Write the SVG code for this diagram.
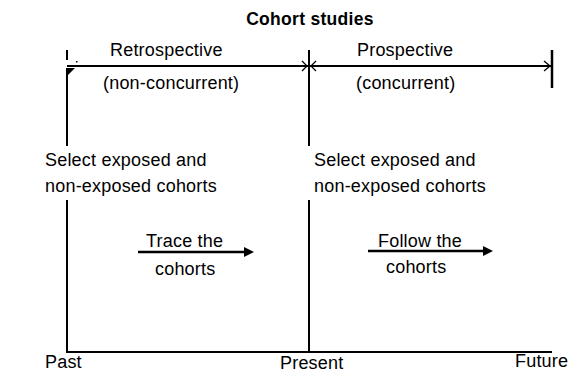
<svg xmlns="http://www.w3.org/2000/svg" width="578" height="373" viewBox="0 0 578 373">
<style>
text{font-family:"Liberation Sans",Arial,sans-serif;font-size:18px;fill:#000;letter-spacing:0.2px}
.title{font-weight:bold;font-size:17.5px;letter-spacing:0.3px}
.ln{stroke:#000;stroke-width:2;fill:none}
.th{stroke:#000;stroke-width:1.3;fill:none}
</style>
<defs>
<marker id="ah" viewBox="0 0 10 10" refX="2" refY="5" markerWidth="4" markerHeight="4" orient="auto" markerUnits="strokeWidth">
<path d="M0,0 L10,5 L0,10 z" fill="#000"/>
</marker>
</defs>
<rect width="578" height="373" fill="#fff"/>
<g id="title"><text class="title" x="310" y="25" text-anchor="middle">Cohort studies</text></g>
<g id="connectors">
<line class="ln" x1="67" y1="66" x2="551" y2="66"/>
<path class="th" d="M544,61 L550,66 L544,71"/>
<path class="th" d="M302,61 L307,66 L302,71 M316,61 L311,66 L316,71"/>
<path d="M68,68 L75,68 L68,75 z" fill="#000"/>
<line class="ln" x1="67" y1="50" x2="67" y2="60"/>
<rect x="76" y="61" width="1.5" height="1.5" fill="#000"/>
<line class="ln" x1="309" y1="50" x2="309" y2="146"/>
<line class="ln" x1="309" y1="200" x2="309" y2="352"/>
<line class="ln" x1="67" y1="68" x2="67" y2="146"/>
<line class="ln" x1="67" y1="200" x2="67" y2="352"/>
<line class="ln" x1="66" y1="352" x2="552" y2="352"/>
<line x1="552" y1="50" x2="552" y2="88" stroke="#000" stroke-width="2.5"/>
<line x1="138" y1="252" x2="246" y2="252" stroke="#000" stroke-width="2.5" marker-end="url(#ah)"/>
<line x1="368" y1="251" x2="485" y2="251" stroke="#000" stroke-width="2.5" marker-end="url(#ah)"/>
</g>
<g id="retro">
<text x="110" y="56">Retrospective</text>
<text x="103" y="89">(non-concurrent)</text>
</g>
<g id="prosp">
<text x="357" y="56">Prospective</text>
<text x="356" y="89">(concurrent)</text>
</g>
<g id="select-left">
<text x="45" y="166">Select exposed and</text>
<text x="45" y="192">non-exposed cohorts</text>
</g>
<g id="select-right">
<text x="314" y="166">Select exposed and</text>
<text x="314" y="192">non-exposed cohorts</text>
</g>
<g id="trace">
<text x="146" y="247">Trace the</text>
<text x="155" y="275">cohorts</text>
</g>
<g id="follow">
<text x="378" y="247">Follow the</text>
<text x="386" y="273">cohorts</text>
</g>
<g id="timeline-labels">
<text x="45" y="368">Past</text>
<text x="280" y="369">Present</text>
<text x="515" y="367">Future</text>
</g>
</svg>
